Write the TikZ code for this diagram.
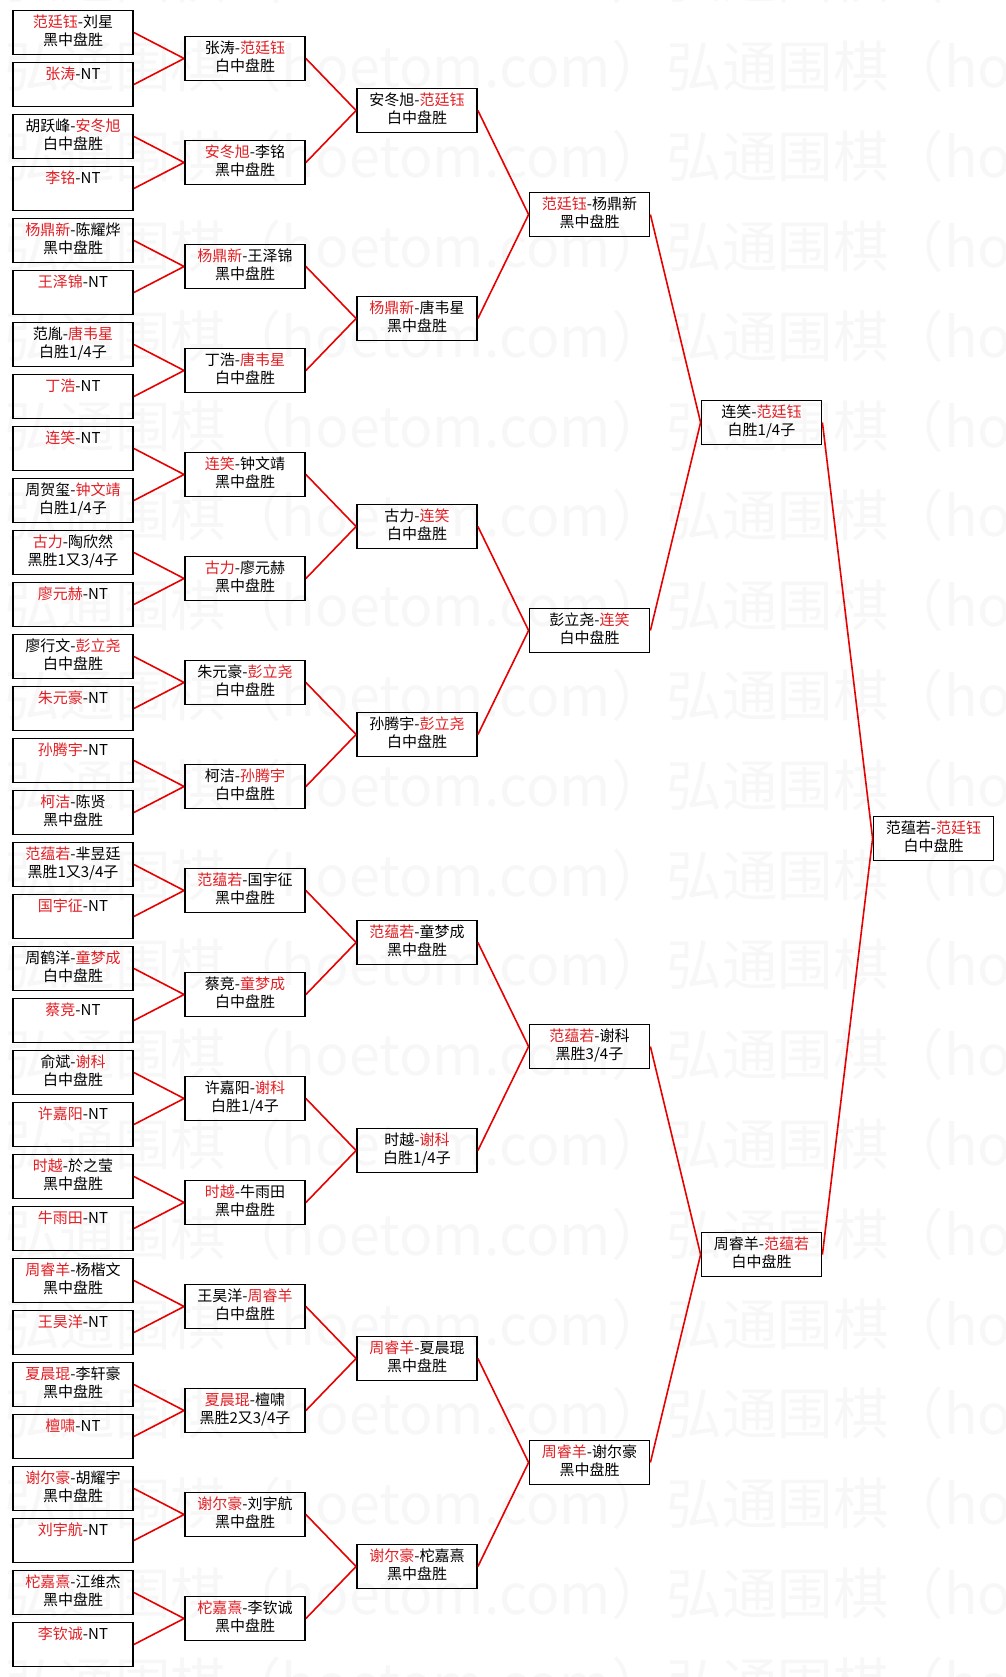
\documentclass[tikz,border=0pt]{standalone}
\usepackage{fontspec}
\setmainfont{Noto Sans CJK SC}
\usepackage{tikz}
\usetikzlibrary{positioning}
\usepackage{xcolor}
\definecolor{wincolor}{RGB}{225, 30, 35}
\definecolor{linkcolor}{RGB}{230, 0, 0}
\definecolor{wmcolor}{RGB}{247, 247, 247}
\newcommand{\win}[1]{\textcolor{wincolor}{#1}}

\begin{document}
\begin{tikzpicture}[x=1pt, y=-1pt,
    game/.style={rectangle, draw, line width=1.8pt, minimum width=120pt, minimum height=44pt, inner sep=0pt, align=center, font=\fontsize{15}{18}\selectfont, execute at begin node={\rule{0pt}{18.6pt}}, execute at end node={\strut}},
    link/.style={draw=linkcolor, line width=1.6pt},
    wm/.style={anchor=west, inner sep=0pt, text=wmcolor, font=\fontsize{55.5}{56}\selectfont}
]
    \useasboundingbox (0,0) rectangle (1005,1677);

    % Watermark
    \begin{scope}
        \clip (0,0) rectangle (1005,1677);
        \foreach \k in {0,...,19}
            \node[wm] (wm\k) at (4, -23+89.8*\k) {弘通围棋（hoetom.com）弘通围棋（hoetom.com）};
    \end{scope}

    % Round 1
    \node[game] (a1) at (73, 32.5) {\win{范廷钰}-刘星\\黑中盘胜};
    \node[game] (a2) at (73, 84.5) {\win{张涛}-NT\\};
    \node[game] (a3) at (73, 136.5) {胡跃峰-\win{安冬旭}\\白中盘胜};
    \node[game] (a4) at (73, 188.5) {\win{李铭}-NT\\};
    \node[game] (a5) at (73, 240.5) {\win{杨鼎新}-陈耀烨\\黑中盘胜};
    \node[game] (a6) at (73, 292.5) {\win{王泽锦}-NT\\};
    \node[game] (a7) at (73, 344.5) {范胤-\win{唐韦星}\\白胜1/4子};
    \node[game] (a8) at (73, 396.5) {\win{丁浩}-NT\\};
    \node[game] (a9) at (73, 448.5) {\win{连笑}-NT\\};
    \node[game] (a10) at (73, 500.5) {周贺玺-\win{钟文靖}\\白胜1/4子};
    \node[game] (a11) at (73, 552.5) {\win{古力}-陶欣然\\黑胜1又3/4子};
    \node[game] (a12) at (73, 604.5) {\win{廖元赫}-NT\\};
    \node[game] (a13) at (73, 656.5) {廖行文-\win{彭立尧}\\白中盘胜};
    \node[game] (a14) at (73, 708.5) {\win{朱元豪}-NT\\};
    \node[game] (a15) at (73, 760.5) {\win{孙腾宇}-NT\\};
    \node[game] (a16) at (73, 812.5) {\win{柯洁}-陈贤\\黑中盘胜};
    \node[game] (a17) at (73, 864.5) {\win{范蕴若}-芈昱廷\\黑胜1又3/4子};
    \node[game] (a18) at (73, 916.5) {\win{国宇征}-NT\\};
    \node[game] (a19) at (73, 968.5) {周鹤洋-\win{童梦成}\\白中盘胜};
    \node[game] (a20) at (73, 1020.5) {\win{蔡竞}-NT\\};
    \node[game] (a21) at (73, 1072.5) {俞斌-\win{谢科}\\白中盘胜};
    \node[game] (a22) at (73, 1124.5) {\win{许嘉阳}-NT\\};
    \node[game] (a23) at (73, 1176.5) {\win{时越}-於之莹\\黑中盘胜};
    \node[game] (a24) at (73, 1228.5) {\win{牛雨田}-NT\\};
    \node[game] (a25) at (73, 1280.5) {\win{周睿羊}-杨楷文\\黑中盘胜};
    \node[game] (a26) at (73, 1332.5) {\win{王昊洋}-NT\\};
    \node[game] (a27) at (73, 1384.5) {\win{夏晨琨}-李轩豪\\黑中盘胜};
    \node[game] (a28) at (73, 1436.5) {\win{檀啸}-NT\\};
    \node[game] (a29) at (73, 1488.5) {\win{谢尔豪}-胡耀宇\\黑中盘胜};
    \node[game] (a30) at (73, 1540.5) {\win{刘宇航}-NT\\};
    \node[game] (a31) at (73, 1592.5) {\win{柁嘉熹}-江维杰\\黑中盘胜};
    \node[game] (a32) at (73, 1644.5) {\win{李钦诚}-NT\\};

    % Round 2
    \node[game] (b1) at (245, 58.5) {张涛-\win{范廷钰}\\白中盘胜};
    \node[game] (b2) at (245, 162.5) {\win{安冬旭}-李铭\\黑中盘胜};
    \node[game] (b3) at (245, 266.5) {\win{杨鼎新}-王泽锦\\黑中盘胜};
    \node[game] (b4) at (245, 370.5) {丁浩-\win{唐韦星}\\白中盘胜};
    \node[game] (b5) at (245, 474.5) {\win{连笑}-钟文靖\\黑中盘胜};
    \node[game] (b6) at (245, 578.5) {\win{古力}-廖元赫\\黑中盘胜};
    \node[game] (b7) at (245, 682.5) {朱元豪-\win{彭立尧}\\白中盘胜};
    \node[game] (b8) at (245, 786.5) {柯洁-\win{孙腾宇}\\白中盘胜};
    \node[game] (b9) at (245, 890.5) {\win{范蕴若}-国宇征\\黑中盘胜};
    \node[game] (b10) at (245, 994.5) {蔡竞-\win{童梦成}\\白中盘胜};
    \node[game] (b11) at (245, 1098.5) {许嘉阳-\win{谢科}\\白胜1/4子};
    \node[game] (b12) at (245, 1202.5) {\win{时越}-牛雨田\\黑中盘胜};
    \node[game] (b13) at (245, 1306.5) {王昊洋-\win{周睿羊}\\白中盘胜};
    \node[game] (b14) at (245, 1410.5) {\win{夏晨琨}-檀啸\\黑胜2又3/4子};
    \node[game] (b15) at (245, 1514.5) {\win{谢尔豪}-刘宇航\\黑中盘胜};
    \node[game] (b16) at (245, 1618.5) {\win{柁嘉熹}-李钦诚\\黑中盘胜};

    % Round 3
    \node[game] (c1) at (417, 110.5) {安冬旭-\win{范廷钰}\\白中盘胜};
    \node[game] (c2) at (417, 318.5) {\win{杨鼎新}-唐韦星\\黑中盘胜};
    \node[game] (c3) at (417, 526.5) {古力-\win{连笑}\\白中盘胜};
    \node[game] (c4) at (417, 734.5) {孙腾宇-\win{彭立尧}\\白中盘胜};
    \node[game] (c5) at (417, 942.5) {\win{范蕴若}-童梦成\\黑中盘胜};
    \node[game] (c6) at (417, 1150.5) {时越-\win{谢科}\\白胜1/4子};
    \node[game] (c7) at (417, 1358.5) {\win{周睿羊}-夏晨琨\\黑中盘胜};
    \node[game] (c8) at (417, 1566.5) {\win{谢尔豪}-柁嘉熹\\黑中盘胜};

    % Round 4
    \node[game] (d1) at (589.5, 214.5) {\win{范廷钰}-杨鼎新\\黑中盘胜};
    \node[game] (d2) at (589.5, 630.5) {彭立尧-\win{连笑}\\白中盘胜};
    \node[game] (d3) at (589.5, 1046.5) {\win{范蕴若}-谢科\\黑胜3/4子};
    \node[game] (d4) at (589.5, 1462.5) {\win{周睿羊}-谢尔豪\\黑中盘胜};

    % Semi-finals and final
    \node[game] (e1) at (761.5, 422.5) {连笑-\win{范廷钰}\\白胜1/4子};
    \node[game] (e2) at (761.5, 1254.5) {周睿羊-\win{范蕴若}\\白中盘胜};
    \node[game] (final) at (933.5, 838.5) {范蕴若-\win{范廷钰}\\白中盘胜};

    % Links
    \draw[link] (a1.east) -- (b1.west) (a2.east) -- (b1.west);
    \draw[link] (a3.east) -- (b2.west) (a4.east) -- (b2.west);
    \draw[link] (a5.east) -- (b3.west) (a6.east) -- (b3.west);
    \draw[link] (a7.east) -- (b4.west) (a8.east) -- (b4.west);
    \draw[link] (a9.east) -- (b5.west) (a10.east) -- (b5.west);
    \draw[link] (a11.east) -- (b6.west) (a12.east) -- (b6.west);
    \draw[link] (a13.east) -- (b7.west) (a14.east) -- (b7.west);
    \draw[link] (a15.east) -- (b8.west) (a16.east) -- (b8.west);
    \draw[link] (a17.east) -- (b9.west) (a18.east) -- (b9.west);
    \draw[link] (a19.east) -- (b10.west) (a20.east) -- (b10.west);
    \draw[link] (a21.east) -- (b11.west) (a22.east) -- (b11.west);
    \draw[link] (a23.east) -- (b12.west) (a24.east) -- (b12.west);
    \draw[link] (a25.east) -- (b13.west) (a26.east) -- (b13.west);
    \draw[link] (a27.east) -- (b14.west) (a28.east) -- (b14.west);
    \draw[link] (a29.east) -- (b15.west) (a30.east) -- (b15.west);
    \draw[link] (a31.east) -- (b16.west) (a32.east) -- (b16.west);
    \draw[link] (b1.east) -- (c1.west) (b2.east) -- (c1.west);
    \draw[link] (b3.east) -- (c2.west) (b4.east) -- (c2.west);
    \draw[link] (b5.east) -- (c3.west) (b6.east) -- (c3.west);
    \draw[link] (b7.east) -- (c4.west) (b8.east) -- (c4.west);
    \draw[link] (b9.east) -- (c5.west) (b10.east) -- (c5.west);
    \draw[link] (b11.east) -- (c6.west) (b12.east) -- (c6.west);
    \draw[link] (b13.east) -- (c7.west) (b14.east) -- (c7.west);
    \draw[link] (b15.east) -- (c8.west) (b16.east) -- (c8.west);
    \draw[link] (c1.east) -- (d1.west) (c2.east) -- (d1.west);
    \draw[link] (c3.east) -- (d2.west) (c4.east) -- (d2.west);
    \draw[link] (c5.east) -- (d3.west) (c6.east) -- (d3.west);
    \draw[link] (c7.east) -- (d4.west) (c8.east) -- (d4.west);
    \draw[link] (d1.east) -- (e1.west) (d2.east) -- (e1.west);
    \draw[link] (d3.east) -- (e2.west) (d4.east) -- (e2.west);
    \draw[link] (e1.east) -- (final.west) (e2.east) -- (final.west);
\end{tikzpicture}
\end{document}
